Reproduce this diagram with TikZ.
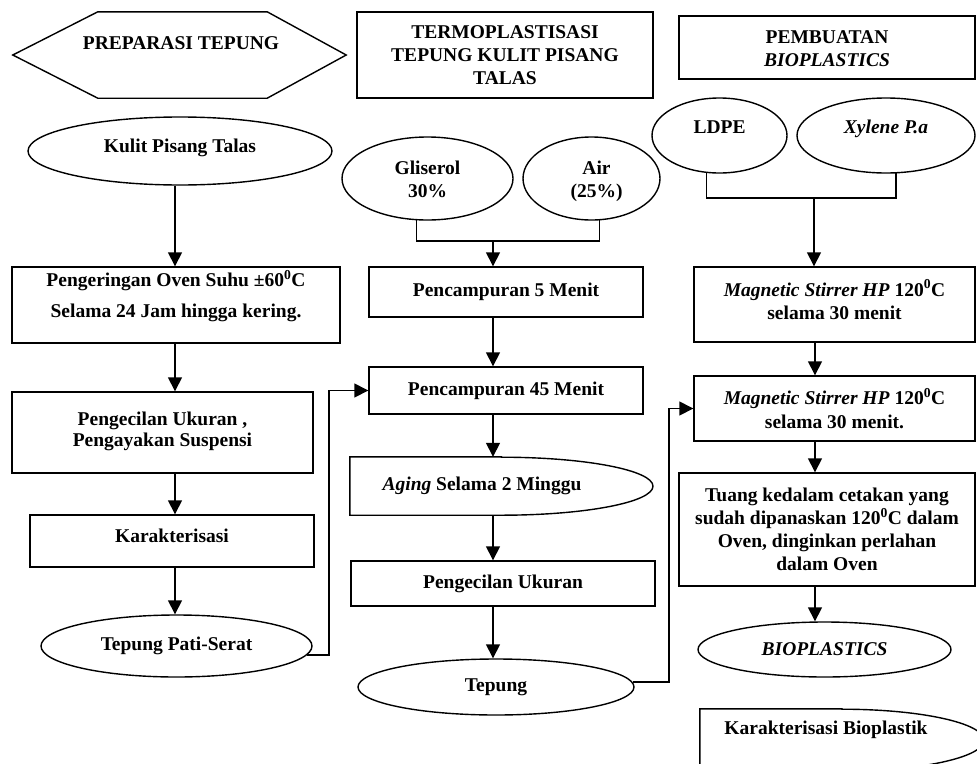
\documentclass[tikz,border=0pt]{standalone}
\usepackage{fontspec}
\setmainfont{Liberation Serif}
\usetikzlibrary{shapes.geometric,arrows.meta,calc}

\newcommand\fsz{\fontsize{19.5}{23}\selectfont\bfseries}
% #1 horizontal shift, #2 vertical raise, #3 text
\newcommand\shifted[3]{\raisebox{#2}[\height][\depth]{\makebox[\width]{\hspace*{#1}\begin{tabular}{@{}c@{}}#3\end{tabular}\hspace*{-#1}}}}

\tikzset{
  box/.style={draw, line width=1.4pt, rectangle, inner sep=0pt, font=\fsz, align=center},
  ell/.style={draw, line width=1.4pt, ellipse, inner sep=0pt, font=\fsz, align=center},
  plain/.style={inner sep=0pt, font=\fsz, align=center},
  ln/.style={line width=1.4pt},
  arr/.style={line width=1.5pt, -{Triangle[width=14pt,length=14pt]}}
}

\begin{document}
\begin{tikzpicture}[x=1pt,y=-1pt]
\useasboundingbox (0,0) rectangle (977,763);
\fill[white] (0,0) rectangle (977,763);
\clip (0,0) rectangle (977,763);

% helper coordinates
\coordinate (lcol) at (175,0);
\coordinate (mcol) at (493,0);
\coordinate (rcol) at (815,0);
\coordinate (brA) at (493,241);
\coordinate (brB) at (814,198);
\coordinate (jA) at (329,0);
\coordinate (jB) at (669,0);

% ---------- left column ----------
\node[plain, minimum width=333, minimum height=86] (prep) at (179.5,55) {\shifted{1.5pt}{10pt}{PREPARASI TEPUNG}};
\draw[ln] (prep.west) -- ([xshift=85pt]prep.north west) -- ([xshift=-79pt]prep.north east) -- (prep.east) -- ([xshift=-79pt]prep.south east) -- ([xshift=85pt]prep.south west) -- cycle;

\node[ell, minimum width=304, minimum height=68] (kulit) at (180,151) {\shifted{0pt}{3pt}{Kulit Pisang Talas}};
\node[box, minimum width=328, minimum height=76] (peng) at (176,305) {\shifted{0pt}{7.5pt}{Pengeringan Oven Suhu ±60\textsuperscript{0}C\\[8pt]Selama 24 Jam hingga kering.}};
\node[box, minimum width=301, minimum height=81] (pkecil) at (162.5,432.5) {\shifted{0pt}{1pt}{Pengecilan Ukuran ,\\[-2pt]Pengayakan Suspensi}};
\node[box, minimum width=284, minimum height=52] (karak) at (172,541) {\shifted{0pt}{3pt}{Karakterisasi}};
\node[ell, minimum width=271, minimum height=62] (tpati) at (176.5,646) {Tepung Pati-Serat};

% ---------- middle column ----------
\node[box, minimum width=296, minimum height=86] (termo) at (505,55) {TERMOPLASTISASI\\TEPUNG KULIT PISANG\\TALAS};
\node[ell, minimum width=171, minimum height=83] (gli) at (427.5,178.5) {\shifted{0pt}{-3pt}{Gliserol\\30\%}};
\node[ell, minimum width=137, minimum height=83] (air) at (591.5,178.5) {\shifted{5pt}{-3pt}{Air\\(25\%)}};
\node[box, minimum width=274, minimum height=50] (mix5) at (506,292) {Pencampuran 5 Menit};
\node[box, minimum width=274, minimum height=47] (mix45) at (506,390.5) {Pencampuran 45 Menit};
\node[plain, minimum width=303, minimum height=58] (aging) at (501.5,486) {\shifted{-19.5pt}{0pt}{\textit{Aging} Selama 2 Minggu}};
\draw[ln] (aging.north) -- (aging.north west) -- (aging.south west) -- (aging.south) arc[start angle=-90, end angle=90, x radius=151.5pt, y radius=29pt] -- cycle;
\node[box, minimum width=304, minimum height=45] (pkecilM) at (503,583.5) {Pengecilan Ukuran};
\node[ell, minimum width=276, minimum height=56] (tepung) at (496,687) {Tepung};

% ---------- right column ----------
\node[box, minimum width=296, minimum height=63] (pemb) at (827,47.5) {\shifted{0pt}{-2.5pt}{PEMBUATAN\\\textit{BIOPLASTICS}}};
\node[ell, minimum width=135, minimum height=75] (ldpe) at (719.5,135.5) {\shifted{0pt}{6.5pt}{LDPE}};
\node[ell, minimum width=178, minimum height=75] (xyl) at (886,135.5) {\shifted{0pt}{6.5pt}{\textit{Xylene P.a}}};
\node[box, minimum width=281, minimum height=75] (mag1) at (834.5,304.5) {\shifted{0pt}{1.5pt}{\textit{Magnetic Stirrer HP} 120\textsuperscript{0}C\\selama 30 menit}};
\node[box, minimum width=281, minimum height=65] (mag2) at (834.5,408.5) {\shifted{0pt}{-3.5pt}{\textit{Magnetic Stirrer HP} 120\textsuperscript{0}C\\[1pt]selama 30 menit.}};
\node[box, minimum width=296, minimum height=113] (tuang) at (827,529.5) {Tuang kedalam cetakan yang\\sudah dipanaskan 120\textsuperscript{0}C dalam\\Oven, dinginkan perlahan\\dalam Oven};
\node[ell, minimum width=253, minimum height=55] (bio) at (824.5,649.5) {\textit{BIOPLASTICS}};
\node[plain, minimum width=284, minimum height=62] (karbio) at (842,740) {\shifted{-16pt}{10pt}{Karakterisasi Bioplastik}};
\draw[ln] (karbio.north) -- (karbio.north west) -- (karbio.south west) -- (karbio.south) arc[start angle=-90, end angle=90, x radius=142pt, y radius=31pt] -- cycle;

% ---------- connectors ----------
\draw[arr] (kulit.south -| lcol) -- (peng.north -| lcol);
\draw[arr] (peng.south -| lcol) -- (pkecil.north -| lcol);
\draw[arr] (pkecil.south -| lcol) -- (karak.north -| lcol);
\draw[arr] (karak.south -| lcol) -- (tpati.north -| lcol);
\draw[arr] (tpati.356) -- (tpati.356 -| jA) |- (mix45.west);

\draw[ln] (gli.255) |- (brA) -| (air.281);
\draw[arr] (brA) -- (mix5.north -| brA);
\draw[arr] (mix5.south -| mcol) -- (mix45.north -| mcol);
\draw[arr] (mix45.south -| mcol) -- (aging.north -| mcol);
\draw[arr] (aging.south -| mcol) -- (pkecilM.north -| mcol);
\draw[arr] (pkecilM.south -| mcol) -- (tepung.north -| mcol);
\draw[arr] (tepung.2) -- (tepung.2 -| jB) |- (mag2.west);

\draw[ln] (ldpe.251) |- (brB) -| (xyl.285);
\draw[arr] (brB) -- (mag1.north -| brB);
\draw[arr] (mag1.south -| rcol) -- (mag2.north -| rcol);
\draw[arr] (mag2.south -| rcol) -- (tuang.north -| rcol);
\draw[arr] (tuang.south -| rcol) -- (bio.north -| rcol);
\end{tikzpicture}
\end{document}
